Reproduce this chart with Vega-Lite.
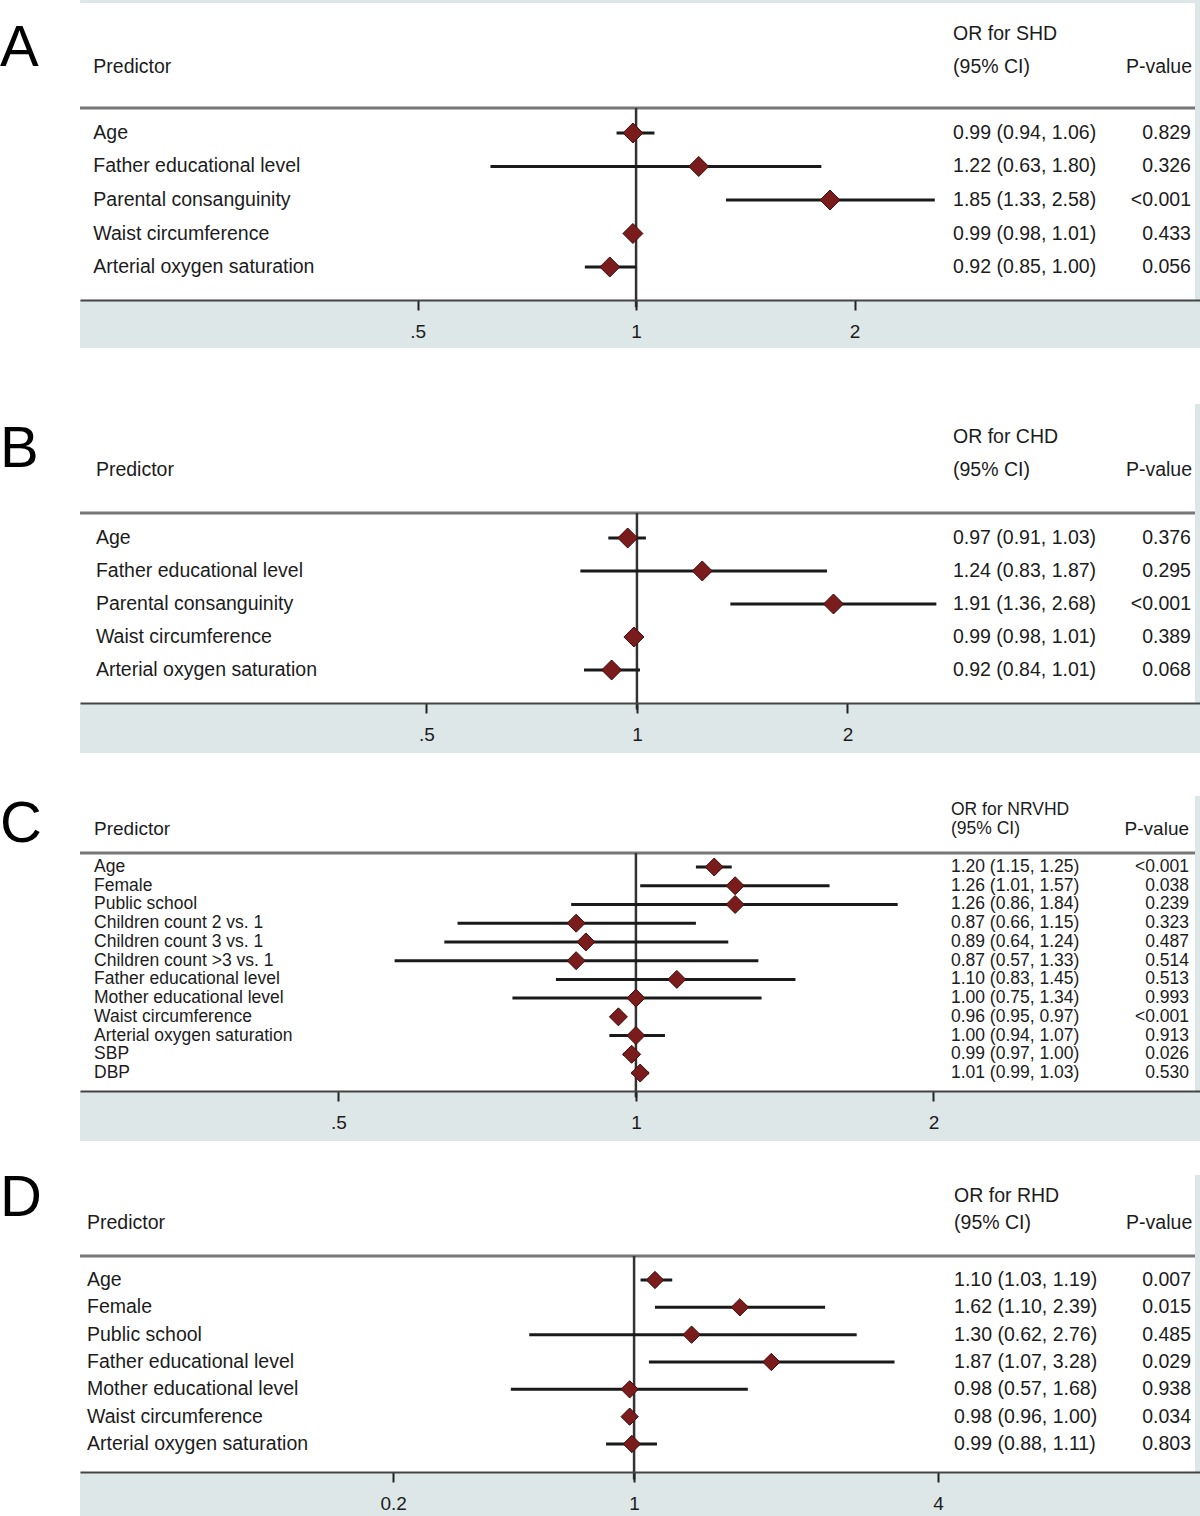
{
  "$schema": "https://vega.github.io/schema/vega-lite/v6.json",
  "padding": 0,
  "spacing": 0,
  "config": {
    "view": {"stroke": null},
    "text": {"font": "Liberation Sans", "fontSize": 19.5, "color": "#1c1c1c"}
  },
  "datasets": {
    "rows": [
      {"panel": "A", "row": 1, "predictor": "Age", "or": 0.99, "lo": 0.94, "hi": 1.06, "ci": "0.99 (0.94, 1.06)", "p": "0.829"},
      {"panel": "A", "row": 2, "predictor": "Father educational level", "or": 1.22, "lo": 0.63, "hi": 1.80, "ci": "1.22 (0.63, 1.80)", "p": "0.326"},
      {"panel": "A", "row": 3, "predictor": "Parental consanguinity", "or": 1.85, "lo": 1.33, "hi": 2.58, "ci": "1.85 (1.33, 2.58)", "p": "<0.001"},
      {"panel": "A", "row": 4, "predictor": "Waist circumference", "or": 0.99, "lo": 0.98, "hi": 1.01, "ci": "0.99 (0.98, 1.01)", "p": "0.433"},
      {"panel": "A", "row": 5, "predictor": "Arterial oxygen saturation", "or": 0.92, "lo": 0.85, "hi": 1.00, "ci": "0.92 (0.85, 1.00)", "p": "0.056"},
      {"panel": "B", "row": 1, "predictor": "Age", "or": 0.97, "lo": 0.91, "hi": 1.03, "ci": "0.97 (0.91, 1.03)", "p": "0.376"},
      {"panel": "B", "row": 2, "predictor": "Father educational level", "or": 1.24, "lo": 0.83, "hi": 1.87, "ci": "1.24 (0.83, 1.87)", "p": "0.295"},
      {"panel": "B", "row": 3, "predictor": "Parental consanguinity", "or": 1.91, "lo": 1.36, "hi": 2.68, "ci": "1.91 (1.36, 2.68)", "p": "<0.001"},
      {"panel": "B", "row": 4, "predictor": "Waist circumference", "or": 0.99, "lo": 0.98, "hi": 1.01, "ci": "0.99 (0.98, 1.01)", "p": "0.389"},
      {"panel": "B", "row": 5, "predictor": "Arterial oxygen saturation", "or": 0.92, "lo": 0.84, "hi": 1.01, "ci": "0.92 (0.84, 1.01)", "p": "0.068"},
      {"panel": "C", "row": 1, "predictor": "Age", "or": 1.20, "lo": 1.15, "hi": 1.25, "ci": "1.20 (1.15, 1.25)", "p": "<0.001"},
      {"panel": "C", "row": 2, "predictor": "Female", "or": 1.26, "lo": 1.01, "hi": 1.57, "ci": "1.26 (1.01, 1.57)", "p": "0.038"},
      {"panel": "C", "row": 3, "predictor": "Public school", "or": 1.26, "lo": 0.86, "hi": 1.84, "ci": "1.26 (0.86, 1.84)", "p": "0.239"},
      {"panel": "C", "row": 4, "predictor": "Children count 2 vs. 1", "or": 0.87, "lo": 0.66, "hi": 1.15, "ci": "0.87 (0.66, 1.15)", "p": "0.323"},
      {"panel": "C", "row": 5, "predictor": "Children count 3 vs. 1", "or": 0.89, "lo": 0.64, "hi": 1.24, "ci": "0.89 (0.64, 1.24)", "p": "0.487"},
      {"panel": "C", "row": 6, "predictor": "Children count >3 vs. 1", "or": 0.87, "lo": 0.57, "hi": 1.33, "ci": "0.87 (0.57, 1.33)", "p": "0.514"},
      {"panel": "C", "row": 7, "predictor": "Father educational level", "or": 1.10, "lo": 0.83, "hi": 1.45, "ci": "1.10 (0.83, 1.45)", "p": "0.513"},
      {"panel": "C", "row": 8, "predictor": "Mother educational level", "or": 1.00, "lo": 0.75, "hi": 1.34, "ci": "1.00 (0.75, 1.34)", "p": "0.993"},
      {"panel": "C", "row": 9, "predictor": "Waist circumference", "or": 0.96, "lo": 0.95, "hi": 0.97, "ci": "0.96 (0.95, 0.97)", "p": "<0.001"},
      {"panel": "C", "row": 10, "predictor": "Arterial oxygen saturation", "or": 1.00, "lo": 0.94, "hi": 1.07, "ci": "1.00 (0.94, 1.07)", "p": "0.913"},
      {"panel": "C", "row": 11, "predictor": "SBP", "or": 0.99, "lo": 0.97, "hi": 1.00, "ci": "0.99 (0.97, 1.00)", "p": "0.026"},
      {"panel": "C", "row": 12, "predictor": "DBP", "or": 1.01, "lo": 0.99, "hi": 1.03, "ci": "1.01 (0.99, 1.03)", "p": "0.530"},
      {"panel": "D", "row": 1, "predictor": "Age", "or": 1.10, "lo": 1.03, "hi": 1.19, "ci": "1.10 (1.03, 1.19)", "p": "0.007"},
      {"panel": "D", "row": 2, "predictor": "Female", "or": 1.62, "lo": 1.10, "hi": 2.39, "ci": "1.62 (1.10, 2.39)", "p": "0.015"},
      {"panel": "D", "row": 3, "predictor": "Public school", "or": 1.30, "lo": 0.62, "hi": 2.76, "ci": "1.30 (0.62, 2.76)", "p": "0.485"},
      {"panel": "D", "row": 4, "predictor": "Father educational level", "or": 1.87, "lo": 1.07, "hi": 3.28, "ci": "1.87 (1.07, 3.28)", "p": "0.029"},
      {"panel": "D", "row": 5, "predictor": "Mother educational level", "or": 0.98, "lo": 0.57, "hi": 1.68, "ci": "0.98 (0.57, 1.68)", "p": "0.938"},
      {"panel": "D", "row": 6, "predictor": "Waist circumference", "or": 0.98, "lo": 0.96, "hi": 1.00, "ci": "0.98 (0.96, 1.00)", "p": "0.034"},
      {"panel": "D", "row": 7, "predictor": "Arterial oxygen saturation", "or": 0.99, "lo": 0.88, "hi": 1.11, "ci": "0.99 (0.88, 1.11)", "p": "0.803"}
    ]
  },
  "vconcat": [
    {
      "width": 1120, "height": 300,
      "layer": [
        {"data": {"values": [{"k": 1}]}, "mark": {"type": "rect", "color": "#dde7e7"},
         "encoding": {"x": {"datum": 0.1713, "type": "quantitative", "scale": {"type": "log", "base": 2, "domain": [0.1713, 5.985]}}, "x2": {"datum": 5.985},
                      "y": {"datum": 5.985, "type": "quantitative", "scale": {"domain": [-2.970, 5.985], "reverse": true, "nice": false, "zero": false}, "axis": null}, "y2": {"datum": 7.418}}},
        {"data": {"values": [{"k": 1}]}, "mark": {"type": "rect", "color": "#dde7e7"},
         "encoding": {"x": {"datum": 0.1713, "type": "quantitative", "scale": {"type": "log", "base": 2, "domain": [0.1713, 5.985]}}, "x2": {"datum": 5.985},
                      "y": {"datum": -2.970, "type": "quantitative", "scale": {"domain": [-2.970, 5.985], "reverse": true, "nice": false, "zero": false}, "axis": null}, "y2": {"datum": -2.880}}},
        {"data": {"values": [{"k": 1}]}, "mark": {"type": "rect", "color": "#dde7e7"},
         "encoding": {"x": {"datum": 5.891, "type": "quantitative", "scale": {"type": "log", "base": 2, "domain": [0.1713, 5.985]}}, "x2": {"datum": 5.985},
                      "y": {"datum": -2.970, "type": "quantitative", "scale": {"domain": [-2.970, 5.985], "reverse": true, "nice": false, "zero": false}, "axis": null}, "y2": {"datum": 5.985}}},
        {"data": {"values": [{"k": 1}]}, "mark": {"type": "rule", "color": "#777777", "strokeWidth": 3},
         "encoding": {"x": {"datum": 0.1713, "type": "quantitative", "scale": {"type": "log", "base": 2, "domain": [0.1713, 5.985]}}, "x2": {"datum": 5.891},
                      "y": {"datum": 0.254, "type": "quantitative", "scale": {"domain": [-2.970, 5.985], "reverse": true, "nice": false, "zero": false}, "axis": null}}},
        {"data": {"values": [{"k": 1}]}, "mark": {"type": "rule", "color": "#333333", "strokeWidth": 2.5},
         "encoding": {"x": {"datum": 1, "type": "quantitative", "scale": {"type": "log", "base": 2, "domain": [0.1713, 5.985]}},
                      "y": {"datum": 0.254, "type": "quantitative", "scale": {"domain": [-2.970, 5.985], "reverse": true, "nice": false, "zero": false}, "axis": null}, "y2": {"datum": 6.2}}},
        {"data": {"name": "rows"}, "transform": [{"filter": "datum.panel === 'A'"}],
         "mark": {"type": "rule", "color": "#1a1a1a", "strokeWidth": 3},
         "encoding": {"x": {"field": "lo", "type": "quantitative", "scale": {"type": "log", "base": 2, "domain": [0.1713, 5.985]}}, "x2": {"field": "hi"},
                      "y": {"field": "row", "type": "quantitative", "scale": {"domain": [-2.970, 5.985], "reverse": true, "nice": false, "zero": false}, "axis": null}}},
        {"data": {"name": "rows"}, "transform": [{"filter": "datum.panel === 'A'"}],
         "mark": {"type": "point", "shape": "diamond", "filled": true, "size": 400, "fill": "#7b1c1c", "stroke": "#3d0c0c", "strokeWidth": 1, "opacity": 1},
         "encoding": {
           "x": {"field": "or", "type": "quantitative", "scale": {"type": "log", "base": 2, "domain": [0.1713, 5.985]},
                 "axis": {"values": [0.5, 1, 2], "title": null, "grid": false, "labelExpr": "datum.value == 0.5 ? '.5' : format(datum.value, '~g')",
                          "domainColor": "#444444", "domainWidth": 2, "tickColor": "#222222", "tickWidth": 2, "tickSize": 10, "labelFont": "Liberation Sans",
                          "labelFontSize": 19, "labelColor": "#1c1c1c", "labelPadding": 12, "zindex": 1}},
           "y": {"field": "row", "type": "quantitative", "scale": {"domain": [-2.970, 5.985], "reverse": true, "nice": false, "zero": false}, "axis": null}}},
        {"data": {"name": "rows"}, "transform": [{"filter": "datum.panel === 'A'"}],
         "mark": {"type": "text", "align": "left", "baseline": "middle"},
         "encoding": {"x": {"datum": 0.1787, "type": "quantitative", "scale": {"type": "log", "base": 2, "domain": [0.1713, 5.985]}},
                      "y": {"field": "row", "type": "quantitative", "scale": {"domain": [-2.970, 5.985], "reverse": true, "nice": false, "zero": false}, "axis": null}, "text": {"field": "predictor"}}},
        {"data": {"name": "rows"}, "transform": [{"filter": "datum.panel === 'A'"}],
         "mark": {"type": "text", "align": "left", "baseline": "middle"},
         "encoding": {"x": {"datum": 2.734, "type": "quantitative", "scale": {"type": "log", "base": 2, "domain": [0.1713, 5.985]}},
                      "y": {"field": "row", "type": "quantitative", "scale": {"domain": [-2.970, 5.985], "reverse": true, "nice": false, "zero": false}, "axis": null}, "text": {"field": "ci"}}},
        {"data": {"name": "rows"}, "transform": [{"filter": "datum.panel === 'A'"}],
         "mark": {"type": "text", "align": "right", "baseline": "middle"},
         "encoding": {"x": {"datum": 5.816, "type": "quantitative", "scale": {"type": "log", "base": 2, "domain": [0.1713, 5.985]}},
                      "y": {"field": "row", "type": "quantitative", "scale": {"domain": [-2.970, 5.985], "reverse": true, "nice": false, "zero": false}, "axis": null}, "text": {"field": "p"}}},
        {"data": {"values": [{"k": 1}]}, "mark": {"type": "text", "align": "left", "baseline": "middle"},
         "encoding": {"x": {"datum": 0.1787, "type": "quantitative", "scale": {"type": "log", "base": 2, "domain": [0.1713, 5.985]}},
                      "y": {"datum": -0.970, "type": "quantitative", "scale": {"domain": [-2.970, 5.985], "reverse": true, "nice": false, "zero": false}, "axis": null}, "text": {"value": "Predictor"}}},
        {"data": {"values": [{"k": 1}]}, "mark": {"type": "text", "align": "left", "baseline": "middle"},
         "encoding": {"x": {"datum": 2.734, "type": "quantitative", "scale": {"type": "log", "base": 2, "domain": [0.1713, 5.985]}},
                      "y": {"datum": -1.955, "type": "quantitative", "scale": {"domain": [-2.970, 5.985], "reverse": true, "nice": false, "zero": false}, "axis": null}, "text": {"value": "OR for SHD"}}},
        {"data": {"values": [{"k": 1}]}, "mark": {"type": "text", "align": "left", "baseline": "middle"},
         "encoding": {"x": {"datum": 2.734, "type": "quantitative", "scale": {"type": "log", "base": 2, "domain": [0.1713, 5.985]}},
                      "y": {"datum": -0.970, "type": "quantitative", "scale": {"domain": [-2.970, 5.985], "reverse": true, "nice": false, "zero": false}, "axis": null}, "text": {"value": "(95% CI)"}}},
        {"data": {"values": [{"k": 1}]}, "mark": {"type": "text", "align": "right", "baseline": "middle"},
         "encoding": {"x": {"datum": 5.835, "type": "quantitative", "scale": {"type": "log", "base": 2, "domain": [0.1713, 5.985]}},
                      "y": {"datum": -0.970, "type": "quantitative", "scale": {"domain": [-2.970, 5.985], "reverse": true, "nice": false, "zero": false}, "axis": null}, "text": {"value": "P-value"}}},
        {"data": {"values": [{"k": 1}]}, "mark": {"type": "text", "align": "left", "baseline": "middle", "fontSize": 58, "color": "#000000", "dx": -80},
         "encoding": {"x": {"datum": 0.1713, "type": "quantitative", "scale": {"type": "log", "base": 2, "domain": [0.1713, 5.985]}},
                      "y": {"datum": -1.5, "type": "quantitative", "scale": {"domain": [-2.970, 5.985], "reverse": true, "nice": false, "zero": false}, "axis": null}, "text": {"value": "A"}}}
      ]
    },
    {
      "width": 1120, "height": 354,
      "layer": [
        {"data": {"values": [{"k": 1}]}, "mark": {"type": "rect", "color": "#dde7e7"},
         "encoding": {"x": {"datum": 0.1598, "type": "quantitative", "scale": {"type": "log", "base": 2, "domain": [0.1598, 6.385]}}, "x2": {"datum": 6.385},
                      "y": {"datum": 6.0, "type": "quantitative", "scale": {"domain": [-4.727, 6.0], "reverse": true, "nice": false, "zero": false}, "axis": null}, "y2": {"datum": 7.515}}},
        {"data": {"values": [{"k": 1}]}, "mark": {"type": "rect", "color": "#dde7e7"},
         "encoding": {"x": {"datum": 6.28, "type": "quantitative", "scale": {"type": "log", "base": 2, "domain": [0.1598, 6.385]}}, "x2": {"datum": 6.385},
                      "y": {"datum": -3.061, "type": "quantitative", "scale": {"domain": [-4.727, 6.0], "reverse": true, "nice": false, "zero": false}, "axis": null}, "y2": {"datum": 6.0}}},
        {"data": {"values": [{"k": 1}]}, "mark": {"type": "rule", "color": "#777777", "strokeWidth": 3},
         "encoding": {"x": {"datum": 0.1598, "type": "quantitative", "scale": {"type": "log", "base": 2, "domain": [0.1598, 6.385]}}, "x2": {"datum": 6.28},
                      "y": {"datum": 0.242, "type": "quantitative", "scale": {"domain": [-4.727, 6.0], "reverse": true, "nice": false, "zero": false}, "axis": null}}},
        {"data": {"values": [{"k": 1}]}, "mark": {"type": "rule", "color": "#333333", "strokeWidth": 2.5},
         "encoding": {"x": {"datum": 1, "type": "quantitative", "scale": {"type": "log", "base": 2, "domain": [0.1598, 6.385]}},
                      "y": {"datum": 0.242, "type": "quantitative", "scale": {"domain": [-4.727, 6.0], "reverse": true, "nice": false, "zero": false}, "axis": null}, "y2": {"datum": 6.2}}},
        {"data": {"name": "rows"}, "transform": [{"filter": "datum.panel === 'B'"}],
         "mark": {"type": "rule", "color": "#1a1a1a", "strokeWidth": 3},
         "encoding": {"x": {"field": "lo", "type": "quantitative", "scale": {"type": "log", "base": 2, "domain": [0.1598, 6.385]}}, "x2": {"field": "hi"},
                      "y": {"field": "row", "type": "quantitative", "scale": {"domain": [-4.727, 6.0], "reverse": true, "nice": false, "zero": false}, "axis": null}}},
        {"data": {"name": "rows"}, "transform": [{"filter": "datum.panel === 'B'"}],
         "mark": {"type": "point", "shape": "diamond", "filled": true, "size": 400, "fill": "#7b1c1c", "stroke": "#3d0c0c", "strokeWidth": 1, "opacity": 1},
         "encoding": {
           "x": {"field": "or", "type": "quantitative", "scale": {"type": "log", "base": 2, "domain": [0.1598, 6.385]},
                 "axis": {"values": [0.5, 1, 2], "title": null, "grid": false, "labelExpr": "datum.value == 0.5 ? '.5' : format(datum.value, '~g')",
                          "domainColor": "#444444", "domainWidth": 2, "tickColor": "#222222", "tickWidth": 2, "tickSize": 10, "labelFont": "Liberation Sans",
                          "labelFontSize": 19, "labelColor": "#1c1c1c", "labelPadding": 12, "zindex": 1}},
           "y": {"field": "row", "type": "quantitative", "scale": {"domain": [-4.727, 6.0], "reverse": true, "nice": false, "zero": false}, "axis": null}}},
        {"data": {"name": "rows"}, "transform": [{"filter": "datum.panel === 'B'"}],
         "mark": {"type": "text", "align": "left", "baseline": "middle"},
         "encoding": {"x": {"datum": 0.1684, "type": "quantitative", "scale": {"type": "log", "base": 2, "domain": [0.1598, 6.385]}},
                      "y": {"field": "row", "type": "quantitative", "scale": {"domain": [-4.727, 6.0], "reverse": true, "nice": false, "zero": false}, "axis": null}, "text": {"field": "predictor"}}},
        {"data": {"name": "rows"}, "transform": [{"filter": "datum.panel === 'B'"}],
         "mark": {"type": "text", "align": "left", "baseline": "middle"},
         "encoding": {"x": {"datum": 2.831, "type": "quantitative", "scale": {"type": "log", "base": 2, "domain": [0.1598, 6.385]}},
                      "y": {"field": "row", "type": "quantitative", "scale": {"domain": [-4.727, 6.0], "reverse": true, "nice": false, "zero": false}, "axis": null}, "text": {"field": "ci"}}},
        {"data": {"name": "rows"}, "transform": [{"filter": "datum.panel === 'B'"}],
         "mark": {"type": "text", "align": "right", "baseline": "middle"},
         "encoding": {"x": {"datum": 6.198, "type": "quantitative", "scale": {"type": "log", "base": 2, "domain": [0.1598, 6.385]}},
                      "y": {"field": "row", "type": "quantitative", "scale": {"domain": [-4.727, 6.0], "reverse": true, "nice": false, "zero": false}, "axis": null}, "text": {"field": "p"}}},
        {"data": {"values": [{"k": 1}]}, "mark": {"type": "text", "align": "left", "baseline": "middle"},
         "encoding": {"x": {"datum": 0.1684, "type": "quantitative", "scale": {"type": "log", "base": 2, "domain": [0.1598, 6.385]}},
                      "y": {"datum": -1.061, "type": "quantitative", "scale": {"domain": [-4.727, 6.0], "reverse": true, "nice": false, "zero": false}, "axis": null}, "text": {"value": "Predictor"}}},
        {"data": {"values": [{"k": 1}]}, "mark": {"type": "text", "align": "left", "baseline": "middle"},
         "encoding": {"x": {"datum": 2.831, "type": "quantitative", "scale": {"type": "log", "base": 2, "domain": [0.1598, 6.385]}},
                      "y": {"datum": -2.061, "type": "quantitative", "scale": {"domain": [-4.727, 6.0], "reverse": true, "nice": false, "zero": false}, "axis": null}, "text": {"value": "OR for CHD"}}},
        {"data": {"values": [{"k": 1}]}, "mark": {"type": "text", "align": "left", "baseline": "middle"},
         "encoding": {"x": {"datum": 2.831, "type": "quantitative", "scale": {"type": "log", "base": 2, "domain": [0.1598, 6.385]}},
                      "y": {"datum": -1.061, "type": "quantitative", "scale": {"domain": [-4.727, 6.0], "reverse": true, "nice": false, "zero": false}, "axis": null}, "text": {"value": "(95% CI)"}}},
        {"data": {"values": [{"k": 1}]}, "mark": {"type": "text", "align": "right", "baseline": "middle"},
         "encoding": {"x": {"datum": 6.22, "type": "quantitative", "scale": {"type": "log", "base": 2, "domain": [0.1598, 6.385]}},
                      "y": {"datum": -1.061, "type": "quantitative", "scale": {"domain": [-4.727, 6.0], "reverse": true, "nice": false, "zero": false}, "axis": null}, "text": {"value": "P-value"}}},
        {"data": {"values": [{"k": 1}]}, "mark": {"type": "text", "align": "left", "baseline": "middle", "fontSize": 58, "color": "#000000", "dx": -80},
         "encoding": {"x": {"datum": 0.1598, "type": "quantitative", "scale": {"type": "log", "base": 2, "domain": [0.1598, 6.385]}},
                      "y": {"datum": -1.66, "type": "quantitative", "scale": {"domain": [-4.727, 6.0], "reverse": true, "nice": false, "zero": false}, "axis": null}, "text": {"value": "B"}}}
      ]
    },
    {
      "width": 1120, "height": 338,
      "layer": [
        {"data": {"values": [{"k": 1}]}, "mark": {"type": "rect", "color": "#dde7e7"},
         "encoding": {"x": {"datum": 0.2739, "type": "quantitative", "scale": {"type": "log", "base": 2, "domain": [0.2739, 3.721]}}, "x2": {"datum": 3.721},
                      "y": {"datum": 12.959, "type": "quantitative", "scale": {"domain": [-5.087, 12.959], "reverse": true, "nice": false, "zero": false}, "axis": null}, "y2": {"datum": 15.629}}},
        {"data": {"values": [{"k": 1}]}, "mark": {"type": "rect", "color": "#dde7e7"},
         "encoding": {"x": {"datum": 3.678, "type": "quantitative", "scale": {"type": "log", "base": 2, "domain": [0.2739, 3.721]}}, "x2": {"datum": 3.721},
                      "y": {"datum": -2.791, "type": "quantitative", "scale": {"domain": [-5.087, 12.959], "reverse": true, "nice": false, "zero": false}, "axis": null}, "y2": {"datum": 12.959}}},
        {"data": {"values": [{"k": 1}]}, "mark": {"type": "rule", "color": "#777777", "strokeWidth": 3},
         "encoding": {"x": {"datum": 0.2739, "type": "quantitative", "scale": {"type": "log", "base": 2, "domain": [0.2739, 3.721]}}, "x2": {"datum": 3.678},
                      "y": {"datum": 0.2525, "type": "quantitative", "scale": {"domain": [-5.087, 12.959], "reverse": true, "nice": false, "zero": false}, "axis": null}}},
        {"data": {"values": [{"k": 1}]}, "mark": {"type": "rule", "color": "#333333", "strokeWidth": 2.5},
         "encoding": {"x": {"datum": 1, "type": "quantitative", "scale": {"type": "log", "base": 2, "domain": [0.2739, 3.721]}},
                      "y": {"datum": 0.2525, "type": "quantitative", "scale": {"domain": [-5.087, 12.959], "reverse": true, "nice": false, "zero": false}, "axis": null}, "y2": {"datum": 13.3}}},
        {"data": {"name": "rows"}, "transform": [{"filter": "datum.panel === 'C'"}],
         "mark": {"type": "rule", "color": "#1a1a1a", "strokeWidth": 3},
         "encoding": {"x": {"field": "lo", "type": "quantitative", "scale": {"type": "log", "base": 2, "domain": [0.2739, 3.721]}}, "x2": {"field": "hi"},
                      "y": {"field": "row", "type": "quantitative", "scale": {"domain": [-5.087, 12.959], "reverse": true, "nice": false, "zero": false}, "axis": null}}},
        {"data": {"name": "rows"}, "transform": [{"filter": "datum.panel === 'C'"}],
         "mark": {"type": "point", "shape": "diamond", "filled": true, "size": 324, "fill": "#7b1c1c", "stroke": "#3d0c0c", "strokeWidth": 1, "opacity": 1},
         "encoding": {
           "x": {"field": "or", "type": "quantitative", "scale": {"type": "log", "base": 2, "domain": [0.2739, 3.721]},
                 "axis": {"values": [0.5, 1, 2], "title": null, "grid": false, "labelExpr": "datum.value == 0.5 ? '.5' : format(datum.value, '~g')",
                          "domainColor": "#444444", "domainWidth": 2, "tickColor": "#222222", "tickWidth": 2, "tickSize": 10, "labelFont": "Liberation Sans",
                          "labelFontSize": 19, "labelColor": "#1c1c1c", "labelPadding": 12, "zindex": 1}},
           "y": {"field": "row", "type": "quantitative", "scale": {"domain": [-5.087, 12.959], "reverse": true, "nice": false, "zero": false}, "axis": null}}},
        {"data": {"name": "rows"}, "transform": [{"filter": "datum.panel === 'C'"}],
         "mark": {"type": "text", "align": "left", "baseline": "middle", "fontSize": 17.5},
         "encoding": {"x": {"datum": 0.2830, "type": "quantitative", "scale": {"type": "log", "base": 2, "domain": [0.2739, 3.721]}},
                      "y": {"field": "row", "type": "quantitative", "scale": {"domain": [-5.087, 12.959], "reverse": true, "nice": false, "zero": false}, "axis": null}, "text": {"field": "predictor"}}},
        {"data": {"name": "rows"}, "transform": [{"filter": "datum.panel === 'C'"}],
         "mark": {"type": "text", "align": "left", "baseline": "middle", "fontSize": 17.5},
         "encoding": {"x": {"datum": 2.083, "type": "quantitative", "scale": {"type": "log", "base": 2, "domain": [0.2739, 3.721]}},
                      "y": {"field": "row", "type": "quantitative", "scale": {"domain": [-5.087, 12.959], "reverse": true, "nice": false, "zero": false}, "axis": null}, "text": {"field": "ci"}}},
        {"data": {"name": "rows"}, "transform": [{"filter": "datum.panel === 'C'"}],
         "mark": {"type": "text", "align": "right", "baseline": "middle", "fontSize": 17.5},
         "encoding": {"x": {"datum": 3.627, "type": "quantitative", "scale": {"type": "log", "base": 2, "domain": [0.2739, 3.721]}},
                      "y": {"field": "row", "type": "quantitative", "scale": {"domain": [-5.087, 12.959], "reverse": true, "nice": false, "zero": false}, "axis": null}, "text": {"field": "p"}}},
        {"data": {"values": [{"k": 1}]}, "mark": {"type": "text", "align": "left", "baseline": "middle", "fontSize": 19},
         "encoding": {"x": {"datum": 0.2830, "type": "quantitative", "scale": {"type": "log", "base": 2, "domain": [0.2739, 3.721]}},
                      "y": {"datum": -1.029, "type": "quantitative", "scale": {"domain": [-5.087, 12.959], "reverse": true, "nice": false, "zero": false}, "axis": null}, "text": {"value": "Predictor"}}},
        {"data": {"values": [{"k": 1}]}, "mark": {"type": "text", "align": "left", "baseline": "middle", "fontSize": 17.5},
         "encoding": {"x": {"datum": 2.083, "type": "quantitative", "scale": {"type": "log", "base": 2, "domain": [0.2739, 3.721]}},
                      "y": {"datum": -2.02, "type": "quantitative", "scale": {"domain": [-5.087, 12.959], "reverse": true, "nice": false, "zero": false}, "axis": null}, "text": {"value": "OR for NRVHD"}}},
        {"data": {"values": [{"k": 1}]}, "mark": {"type": "text", "align": "left", "baseline": "middle", "fontSize": 17.5},
         "encoding": {"x": {"datum": 2.083, "type": "quantitative", "scale": {"type": "log", "base": 2, "domain": [0.2739, 3.721]}},
                      "y": {"datum": -1.029, "type": "quantitative", "scale": {"domain": [-5.087, 12.959], "reverse": true, "nice": false, "zero": false}, "axis": null}, "text": {"value": "(95% CI)"}}},
        {"data": {"values": [{"k": 1}]}, "mark": {"type": "text", "align": "right", "baseline": "middle", "fontSize": 19},
         "encoding": {"x": {"datum": 3.627, "type": "quantitative", "scale": {"type": "log", "base": 2, "domain": [0.2739, 3.721]}},
                      "y": {"datum": -1.029, "type": "quantitative", "scale": {"domain": [-5.087, 12.959], "reverse": true, "nice": false, "zero": false}, "axis": null}, "text": {"value": "P-value"}}},
        {"data": {"values": [{"k": 1}]}, "mark": {"type": "text", "align": "left", "baseline": "middle", "fontSize": 58, "color": "#000000", "dx": -80},
         "encoding": {"x": {"datum": 0.2739, "type": "quantitative", "scale": {"type": "log", "base": 2, "domain": [0.2739, 3.721]}},
                      "y": {"datum": -1.25, "type": "quantitative", "scale": {"domain": [-5.087, 12.959], "reverse": true, "nice": false, "zero": false}, "axis": null}, "text": {"value": "C"}}}
      ]
    },
    {
      "width": 1120, "height": 330,
      "layer": [
        {"data": {"values": [{"k": 1}]}, "mark": {"type": "rect", "color": "#dde7e7"},
         "encoding": {"x": {"datum": 0.0799, "type": "quantitative", "scale": {"type": "log", "base": 2, "domain": [0.0799, 13.21]}}, "x2": {"datum": 13.21},
                      "y": {"datum": 8.025, "type": "quantitative", "scale": {"domain": [-4.049, 8.025], "reverse": true, "nice": false, "zero": false}, "axis": null}, "y2": {"datum": 9.708}}},
        {"data": {"values": [{"k": 1}]}, "mark": {"type": "rect", "color": "#dde7e7"},
         "encoding": {"x": {"datum": 12.91, "type": "quantitative", "scale": {"type": "log", "base": 2, "domain": [0.0799, 13.21]}}, "x2": {"datum": 13.21},
                      "y": {"datum": -2.842, "type": "quantitative", "scale": {"domain": [-4.049, 8.025], "reverse": true, "nice": false, "zero": false}, "axis": null}, "y2": {"datum": 8.025}}},
        {"data": {"values": [{"k": 1}]}, "mark": {"type": "rule", "color": "#777777", "strokeWidth": 3},
         "encoding": {"x": {"datum": 0.0799, "type": "quantitative", "scale": {"type": "log", "base": 2, "domain": [0.0799, 13.21]}}, "x2": {"datum": 12.91},
                      "y": {"datum": 0.122, "type": "quantitative", "scale": {"domain": [-4.049, 8.025], "reverse": true, "nice": false, "zero": false}, "axis": null}}},
        {"data": {"values": [{"k": 1}]}, "mark": {"type": "rule", "color": "#333333", "strokeWidth": 2.5},
         "encoding": {"x": {"datum": 1, "type": "quantitative", "scale": {"type": "log", "base": 2, "domain": [0.0799, 13.21]}},
                      "y": {"datum": 0.122, "type": "quantitative", "scale": {"domain": [-4.049, 8.025], "reverse": true, "nice": false, "zero": false}, "axis": null}, "y2": {"datum": 8.3}}},
        {"data": {"name": "rows"}, "transform": [{"filter": "datum.panel === 'D'"}],
         "mark": {"type": "rule", "color": "#1a1a1a", "strokeWidth": 3},
         "encoding": {"x": {"field": "lo", "type": "quantitative", "scale": {"type": "log", "base": 2, "domain": [0.0799, 13.21]}}, "x2": {"field": "hi"},
                      "y": {"field": "row", "type": "quantitative", "scale": {"domain": [-4.049, 8.025], "reverse": true, "nice": false, "zero": false}, "axis": null}}},
        {"data": {"name": "rows"}, "transform": [{"filter": "datum.panel === 'D'"}],
         "mark": {"type": "point", "shape": "diamond", "filled": true, "size": 300, "fill": "#7b1c1c", "stroke": "#3d0c0c", "strokeWidth": 1, "opacity": 1},
         "encoding": {
           "x": {"field": "or", "type": "quantitative", "scale": {"type": "log", "base": 2, "domain": [0.0799, 13.21]},
                 "axis": {"values": [0.3333, 1, 4], "title": null, "grid": false, "labelExpr": "datum.value < 0.5 ? '0.2' : format(datum.value, '~g')",
                          "domainColor": "#444444", "domainWidth": 2, "tickColor": "#222222", "tickWidth": 2, "tickSize": 10, "labelFont": "Liberation Sans",
                          "labelFontSize": 19, "labelColor": "#1c1c1c", "labelPadding": 12, "zindex": 1}},
           "y": {"field": "row", "type": "quantitative", "scale": {"domain": [-4.049, 8.025], "reverse": true, "nice": false, "zero": false}, "axis": null}}},
        {"data": {"name": "rows"}, "transform": [{"filter": "datum.panel === 'D'"}],
         "mark": {"type": "text", "align": "left", "baseline": "middle"},
         "encoding": {"x": {"datum": 0.0825, "type": "quantitative", "scale": {"type": "log", "base": 2, "domain": [0.0799, 13.21]}},
                      "y": {"field": "row", "type": "quantitative", "scale": {"domain": [-4.049, 8.025], "reverse": true, "nice": false, "zero": false}, "axis": null}, "text": {"field": "predictor"}}},
        {"data": {"name": "rows"}, "transform": [{"filter": "datum.panel === 'D'"}],
         "mark": {"type": "text", "align": "left", "baseline": "middle"},
         "encoding": {"x": {"datum": 4.303, "type": "quantitative", "scale": {"type": "log", "base": 2, "domain": [0.0799, 13.21]}},
                      "y": {"field": "row", "type": "quantitative", "scale": {"domain": [-4.049, 8.025], "reverse": true, "nice": false, "zero": false}, "axis": null}, "text": {"field": "ci"}}},
        {"data": {"name": "rows"}, "transform": [{"filter": "datum.panel === 'D'"}],
         "mark": {"type": "text", "align": "right", "baseline": "middle"},
         "encoding": {"x": {"datum": 12.68, "type": "quantitative", "scale": {"type": "log", "base": 2, "domain": [0.0799, 13.21]}},
                      "y": {"field": "row", "type": "quantitative", "scale": {"domain": [-4.049, 8.025], "reverse": true, "nice": false, "zero": false}, "axis": null}, "text": {"field": "p"}}},
        {"data": {"values": [{"k": 1}]}, "mark": {"type": "text", "align": "left", "baseline": "middle"},
         "encoding": {"x": {"datum": 0.0825, "type": "quantitative", "scale": {"type": "log", "base": 2, "domain": [0.0799, 13.21]}},
                      "y": {"datum": -1.086, "type": "quantitative", "scale": {"domain": [-4.049, 8.025], "reverse": true, "nice": false, "zero": false}, "axis": null}, "text": {"value": "Predictor"}}},
        {"data": {"values": [{"k": 1}]}, "mark": {"type": "text", "align": "left", "baseline": "middle"},
         "encoding": {"x": {"datum": 4.303, "type": "quantitative", "scale": {"type": "log", "base": 2, "domain": [0.0799, 13.21]}},
                      "y": {"datum": -2.074, "type": "quantitative", "scale": {"domain": [-4.049, 8.025], "reverse": true, "nice": false, "zero": false}, "axis": null}, "text": {"value": "OR for RHD"}}},
        {"data": {"values": [{"k": 1}]}, "mark": {"type": "text", "align": "left", "baseline": "middle"},
         "encoding": {"x": {"datum": 4.303, "type": "quantitative", "scale": {"type": "log", "base": 2, "domain": [0.0799, 13.21]}},
                      "y": {"datum": -1.086, "type": "quantitative", "scale": {"domain": [-4.049, 8.025], "reverse": true, "nice": false, "zero": false}, "axis": null}, "text": {"value": "(95% CI)"}}},
        {"data": {"values": [{"k": 1}]}, "mark": {"type": "text", "align": "right", "baseline": "middle"},
         "encoding": {"x": {"datum": 12.75, "type": "quantitative", "scale": {"type": "log", "base": 2, "domain": [0.0799, 13.21]}},
                      "y": {"datum": -1.086, "type": "quantitative", "scale": {"domain": [-4.049, 8.025], "reverse": true, "nice": false, "zero": false}, "axis": null}, "text": {"value": "P-value"}}},
        {"data": {"values": [{"k": 1}]}, "mark": {"type": "text", "align": "left", "baseline": "middle", "fontSize": 58, "color": "#000000", "dx": -80},
         "encoding": {"x": {"datum": 0.0799, "type": "quantitative", "scale": {"type": "log", "base": 2, "domain": [0.0799, 13.21]}},
                      "y": {"datum": -1.95, "type": "quantitative", "scale": {"domain": [-4.049, 8.025], "reverse": true, "nice": false, "zero": false}, "axis": null}, "text": {"value": "D"}}}
      ]
    }
  ]
}
